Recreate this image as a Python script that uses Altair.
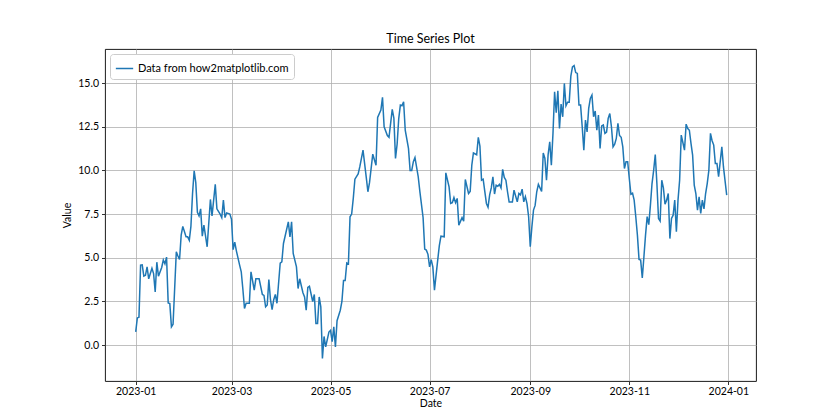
import altair as alt
import pandas as pd

# Day offsets from 2023-01-01 and values
days = [0, 1, 2, 3, 4, 5, 6, 7, 8, 10, 11, 12, 13, 14, 16, 17, 18, 19, 20, 21, 22, 23, 25, 26, 27, 28, 29,
        31, 32, 33, 34, 35, 36, 37, 38, 39, 40, 41, 42, 44, 46, 47, 49, 50, 52, 53, 54, 55, 56, 58, 59,
        60, 61, 62, 64, 65, 66, 67, 68, 70, 71, 73, 74, 76, 78, 79, 80, 81, 82, 83, 84, 85, 86, 87, 89,
        90, 91, 94, 95, 96, 97, 99, 100, 101, 103, 104, 105, 106, 107, 109, 110, 111, 112, 113, 114,
        115, 116, 117, 119, 120, 121, 122, 123, 124, 126, 127, 128, 129, 130, 131, 132, 133, 134, 135,
        137, 138, 140, 142, 143, 144, 146, 148, 149, 151, 152, 153, 155, 156, 158, 159, 160, 161, 162,
        163, 164, 165, 166, 168, 169, 170, 171, 172, 174, 175, 177, 178, 179, 180, 181, 182, 183, 184,
        186, 187, 188, 190, 191, 193, 194, 195, 196, 197, 198, 199, 201, 202, 203, 205, 206, 207, 208,
        210, 211, 212, 213, 214, 215, 216, 217, 218, 219, 220, 221, 222, 223, 224, 225, 226, 227, 228,
        229, 230, 232, 233, 235, 236, 237, 238, 239, 240, 241, 242, 243, 244, 245, 246, 247, 248, 250,
        251, 252, 253, 254, 255, 256, 257, 258, 259, 260, 261, 262, 263, 264, 265, 266, 267, 268, 269,
        270, 271, 272, 273, 274, 275, 276, 277, 278, 279, 280, 281, 282, 283, 284, 285, 286, 287, 288,
        289, 290, 291, 292, 293, 294, 295, 296, 297, 298, 299, 300, 301, 302, 303, 304, 305, 306, 307,
        308, 309, 310, 311, 312, 313, 314, 315, 316, 317, 318, 319, 320, 321, 322, 323, 324, 325, 326,
        327, 328, 329, 330, 331, 332, 333, 334, 335, 336, 337, 338, 339, 340, 341, 342, 343, 344, 345,
        346, 347, 348, 349, 350, 351, 352, 353, 354, 355, 356, 357, 358, 359, 360, 361, 362, 364]

values = [0.76, 1.56, 1.6, 4.58, 4.6, 3.95, 4.0, 4.48, 3.8, 4.4, 4.1, 3.05, 4.75, 3.95, 4.45, 4.87, 4.65,
          5.04, 2.42, 2.38, 1.05, 1.2, 5.34, 5.1, 4.9, 6.3, 6.8,
          6.2, 6.2, 6.0, 6.8, 8.68, 9.98, 9.3, 7.6, 7.4, 7.8, 6.24, 6.87, 5.63, 8.34, 7.4, 9.2, 7.8, 7.5,
          7.3, 8.3, 7.3, 7.57, 7.5, 7.2,
          5.47, 5.9, 5.4, 4.58, 4.2, 3.2, 2.1, 2.4, 2.4, 4.2, 3.15, 3.8, 3.8, 2.9, 2.85, 2.2, 2.3, 3.76,
          2.6, 2.04, 2.6, 2.9, 2.4, 4.7,
          4.77, 5.82, 7.06, 6.2, 7.06, 5.25, 4.48, 3.24, 3.8, 3.0, 2.76, 2.0, 3.3, 3.37, 2.5, 2.9, 1.24,
          1.24, 2.76, 2.2,
          -0.76, 0.5, -0.1, 0.75, 0.85, 0.2, 1.05, -0.1, 1.4, 2.0, 2.5, 3.7, 3.7, 4.7, 4.65, 7.35, 7.5,
          8.4, 9.5,
          9.8, 10.2, 11.16, 9.6, 8.78, 9.3, 10.93, 10.3, 13.03, 13.45, 14.18, 12.5, 12.0, 11.9, 13.49,
          13.0, 10.69, 11.5, 12.97,
          13.74, 13.7, 13.93, 12.3, 11.26, 10.0, 10.0, 10.5, 10.74, 9.64, 8.8, 7.3, 5.5, 5.44, 5.2, 4.48,
          4.9, 4.48, 3.15,
          4.87, 5.7, 6.24, 6.2, 9.86, 9.06, 8.11, 8.15, 8.45, 8.15, 8.4, 6.87, 7.3, 7.1, 9.48, 8.68, 8.8,
          10.3, 11.0,
          10.9, 11.89, 11.4, 9.44, 9.5, 8.8, 8.11, 7.9, 8.6, 9.0, 9.64, 8.65, 9.16, 9.1, 9.2, 9.0, 10.06,
          9.6, 9.44,
          8.78, 8.2, 8.2, 8.87, 8.2, 8.68, 8.6, 8.93, 8.2, 8.5, 8.1, 7.35, 5.63, 6.77, 7.73, 8.0, 8.78,
          9.2, 8.8,
          11.0, 10.7, 9.44, 10.9, 11.64, 10.3, 12.12, 14.5, 13.3, 14.56, 12.4, 13.8, 13.07, 14.98, 13.7,
          13.9, 13.9, 15.4, 15.93,
          16.0, 15.6, 15.55, 13.74, 13.74, 12.5, 11.16, 12.88, 12.21, 13.55, 14.12, 14.31, 13.07, 13.4,
          12.3, 13.17, 11.26, 12.55, 12.6,
          12.12, 12.2, 12.98, 13.26, 12.5, 11.35, 11.5, 11.83, 12.69, 12.0, 11.9, 11.35, 10.11, 10.5,
          10.5, 9.54, 8.64, 8.7, 8.3,
          7.35, 6.3, 4.9, 4.87, 3.85, 5.05, 6.3, 7.36, 6.9, 8.0, 9.25, 10.0, 10.91, 9.25, 7.25, 7.1, 9.44,
          9.0, 8.07,
          8.3, 8.68, 6.1, 7.25, 7.44, 8.3, 6.49, 8.3, 9.44, 12.02, 11.6, 11.16, 12.65, 12.4, 12.3, 11.55,
          10.88, 9.16, 8.68,
          7.73, 8.49, 7.54, 8.3, 7.8, 8.68, 9.25, 10.0, 12.12, 11.7, 11.45, 10.4, 10.4, 9.64, 10.5, 11.35,
          10.2, 8.59]

series_name = "Data from how2matplotlib.com"
y_ticks = [0.0, 2.5, 5.0, 7.5, 10.0, 12.5, 15.0]

dates = pd.Timestamp("2023-01-01") + pd.to_timedelta(days, unit="D")
df = pd.DataFrame({"Date": dates, "Value": values, "series": series_name})

FONT = "Lato"
x_ticks = [alt.DateTime(year=y, month=m, date=1) for (y, m) in
           [(2023, 1), (2023, 3), (2023, 5), (2023, 7), (2023, 9), (2023, 11), (2024, 1)]]

chart = alt.Chart(df).mark_line(strokeWidth=1.5, clip=True).encode(
    x=alt.X("Date:T",
            scale=alt.Scale(domain=[alt.DateTime(year=2022, month=12, date=13, hours=2),
                                    alt.DateTime(year=2024, month=1, date=18, hours=1)]),
            axis=alt.Axis(values=x_ticks, format="%Y-%m", title="Date", labelAngle=0,
                          titleFontWeight="normal", titlePadding=1, labelPadding=2)),
    y=alt.Y("Value:Q",
            scale=alt.Scale(domain=[-2.05, 16.95], nice=False, zero=False),
            axis=alt.Axis(values=y_ticks, format=".1f", title="Value",
                          titleFontWeight="normal", titlePadding=5)),
    color=alt.Color("series:N",
                    scale=alt.Scale(range=["#1f77b4"]),
                    legend=alt.Legend(title=None, orient="top-left", offset=5,
                                      symbolType="stroke", symbolStrokeWidth=1.5, symbolSize=300,
                                      fillColor="white", strokeColor="#cccccc", cornerRadius=3,
                                      padding=5, labelFontSize=11, labelFont=FONT,
                                      labelColor="black")),
).properties(
    width=651,
    height=332,
    background="white",
    title=alt.TitleParams("Time Series Plot", fontSize=12.5, font=FONT, fontWeight="normal",
                          color="black", offset=4),
    autosize=alt.AutoSizeParams(type="none"),
    padding={"left": 97, "top": 41, "right": 70, "bottom": 34},
).configure_view(
    stroke="black", strokeWidth=0.9
).configure_axis(
    grid=True, gridColor="#b0b0b0", gridWidth=0.8,
    domain=False, tickColor="black", tickSize=3.5, tickWidth=0.8,
    labelFont=FONT, labelFontSize=10.5, labelColor="black", labelPadding=3,
    titleFont=FONT, titleFontSize=10.5, titleFontWeight="normal", titleColor="black",
)

chart.save("out.html", embed_options={"renderer": "svg", "actions": False})
